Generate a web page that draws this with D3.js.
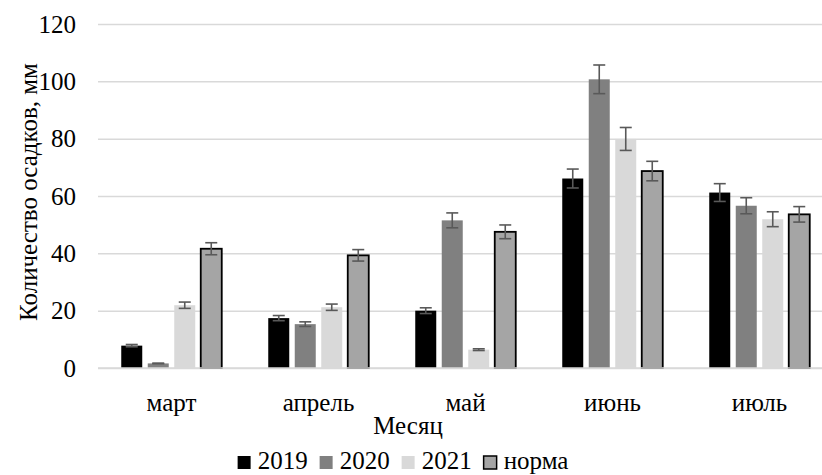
<!DOCTYPE html>
<html>
<head>
<meta charset="utf-8">
<script src="https://cdn.jsdelivr.net/npm/d3@7"></script>
<style>
  body { margin: 0; background: #fff; }
  svg text { font-family: 'Liberation Serif', 'Times New Roman', serif; }
</style>
</head>
<body>
<div id="chart"></div>
<script>
const months = ['март', 'апрель', 'май', 'июнь', 'июль']
const seriesNames = ['2019', '2020', '2021', 'норма']

const values2019 = [7.8, 17.4, 20.0, 66.1, 61.2]
const values2020 = [1.6, 15.3, 51.5, 100.7, 56.6]
const values2021 = [21.9, 21.2, 6.4, 79.9, 51.9]
const valuesNorm = [41.6, 39.3, 47.5, 68.7, 53.6]

const err2019 = [0.4, 0.9, 1.0, 3.3, 3.1]
const err2020 = [0.1, 0.8, 2.6, 5.0, 2.8]
const err2021 = [1.1, 1.1, 0.3, 4.0, 2.6]
const errNorm = [2.1, 2.0, 2.4, 3.4, 2.7]

const yTicks = [0, 20, 40, 60, 80, 100, 120]

const colors = { 2019: '#000000', 2020: '#808080', 2021: '#d9d9d9', норма: '#a5a5a5' }

const allValues = [values2019, values2020, values2021, valuesNorm]
const allErrors = [err2019, err2020, err2021, errNorm]

const rows = []
months.forEach((m, i) => {
  seriesNames.forEach((s, j) => {
    rows.push({ month: m, series: s, value: allValues[j][i], err: allErrors[j][i] })
  })
})

const width = 822
const height = 475
const plot = { left: 98, right: 833, top: 24, bottom: 368 }
const font = "'Liberation Serif', 'Times New Roman', serif"

const svg = d3.select('#chart')
  .append('svg')
  .attr('width', width)
  .attr('height', height)
  .attr('font-family', font)

const yScale = d3.scaleLinear()
  .domain([0, 120])
  .range([plot.bottom, plot.top])

const x0 = d3.scaleBand()
  .domain(months)
  .range([plot.left, plot.right])

const groupWidth = 100.5
const x1 = d3.scaleBand()
  .domain(seriesNames)
  .range([(x0.bandwidth() - groupWidth) / 2, (x0.bandwidth() + groupWidth) / 2])
  .paddingInner(0.2075)

// gridlines + y labels
const yAxis = d3.axisLeft(yScale)
  .tickValues(yTicks)
  .tickSize(-(width - plot.left))
  .tickPadding(22)

svg.append('g')
  .attr('class', 'y-axis')
  .attr('transform', `translate(${plot.left},0)`)
  .call(yAxis)
  .attr('font-family', font)
  .attr('font-size', 25)
  .call(g => g.select('.domain').remove())
  .call(g => g.selectAll('.tick line').attr('stroke', '#d9d9d9').attr('stroke-width', 1.5))
  .call(g => g.selectAll('.tick text').attr('fill', '#000'))

// bars
svg.append('g')
  .selectAll('rect')
  .data(rows)
  .enter().append('rect')
  .attr('x', d => x0(d.month) + x1(d.series))
  .attr('y', d => yScale(d.value))
  .attr('width', x1.bandwidth())
  .attr('height', d => yScale(0) - yScale(d.value))
  .attr('fill', d => colors[d.series])
  .attr('stroke', d => d.series === 'норма' ? '#000' : 'none')
  .attr('stroke-width', 1.8)

// baseline drawn over the bars
svg.append('line')
  .attr('x1', plot.left)
  .attr('x2', width)
  .attr('y1', yScale(0))
  .attr('y2', yScale(0))
  .attr('stroke', '#d9d9d9')
  .attr('stroke-width', 1.5)

// error bars
const errG = svg.append('g')
  .attr('stroke', '#595959')
  .attr('stroke-width', 1.6)
const cap = 6
rows.forEach(d => {
  const cx = x0(d.month) + x1(d.series) + x1.bandwidth() / 2
  const yHi = yScale(d.value + d.err)
  const yLo = yScale(d.value - d.err)
  errG.append('line').attr('x1', cx).attr('x2', cx).attr('y1', yHi).attr('y2', yLo)
  errG.append('line').attr('x1', cx - cap).attr('x2', cx + cap).attr('y1', yHi).attr('y2', yHi)
  errG.append('line').attr('x1', cx - cap).attr('x2', cx + cap).attr('y1', yLo).attr('y2', yLo)
})

// x axis labels
const xAxis = d3.axisBottom(x0).tickSize(0).tickPadding(25)
svg.append('g')
  .attr('class', 'x-axis')
  .attr('transform', `translate(0,${plot.bottom})`)
  .call(xAxis)
  .attr('font-family', font)
  .attr('font-size', 25)
  .call(g => g.select('.domain').remove())
  .call(g => g.selectAll('.tick text').attr('fill', '#000'))

// axis titles
svg.append('text')
  .attr('x', 408)
  .attr('y', 434)
  .attr('text-anchor', 'middle')
  .attr('font-size', 25)
  .text('Месяц')

svg.append('text')
  .attr('transform', 'rotate(-90)')
  .attr('x', -192)
  .attr('y', 37)
  .attr('text-anchor', 'middle')
  .attr('font-size', 25)
  .text('Количество осадков, мм')

// legend
const legend = svg.append('g').attr('transform', 'translate(0,469)')
const items = []
seriesNames.forEach(s => {
  const item = legend.append('g')
  item.append('rect')
    .attr('x', 0)
    .attr('y', -13)
    .attr('width', 13)
    .attr('height', 13)
    .attr('fill', colors[s])
    .attr('stroke', s === 'норма' ? '#000' : 'none')
    .attr('stroke-width', 1.5)
  const t = item.append('text')
    .attr('x', 20)
    .attr('y', 0)
    .attr('font-size', 25)
    .text(s)
  items.push({ item, w: 20 + t.node().getComputedTextLength() })
})
const gap = 12
const totalW = d3.sum(items, d => d.w) + gap * (items.length - 1)
let lx = 403 - totalW / 2
items.forEach(d => {
  d.item.attr('transform', `translate(${lx},0)`)
  lx += d.w + gap
})
</script>
</body>
</html>
